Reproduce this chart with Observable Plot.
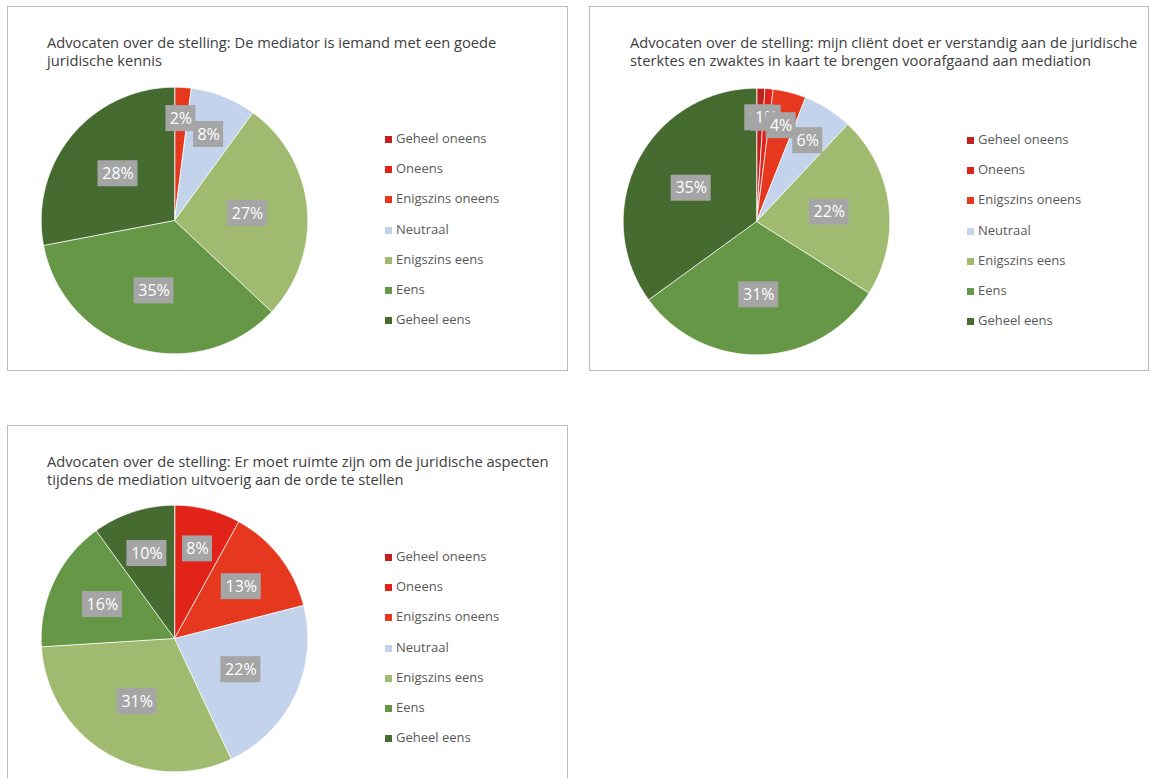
<!DOCTYPE html>
<html><head><meta charset="utf-8">
<script src="https://cdn.jsdelivr.net/npm/d3@7"></script>
<script src="https://cdn.jsdelivr.net/npm/@observablehq/plot@0.6"></script>
<style>
body{margin:0;background:#fff;font-family:"Open Sans",sans-serif;}
#page{position:relative;width:1149px;height:778px;overflow:hidden;}
.panel{position:absolute;border:1px solid #bcbcbc;box-sizing:border-box;}
.title{position:absolute;font-size:14.7px;line-height:18px;color:#404040;white-space:nowrap;}
.legend{position:absolute;font-size:13px;color:#595959;}
.legend .row{position:absolute;left:0;height:18px;line-height:18px;white-space:nowrap;}
.legend .sw{display:inline-block;width:7px;height:7px;margin-right:4px;vertical-align:0px;}
.chart{position:absolute;}
g[aria-label="label-box"] rect{filter:drop-shadow(3px 4px 4px rgba(0,0,0,0.6));}
</style></head>
<body><div id="page"></div>
<script>
const categories = ["Geheel oneens","Oneens","Enigszins oneens","Neutraal","Enigszins eens","Eens","Geheel eens"];
const colors = ["#c0211c","#e2231a","#e6381f","#c3d3eb","#a0bb6f","#669746","#466b30"];

const title1 = ["Advocaten over de stelling: De mediator is iemand met een goede","juridische kennis"];
const values1 = [0,0,2,8,27,35,28];

const title2 = ["Advocaten over de stelling: mijn cliënt doet er verstandig aan de juridische","sterktes en zwaktes in kaart te brengen voorafgaand aan mediation"];
const values2 = [1,1,4,6,22,31,35];

const title3 = ["Advocaten over de stelling: Er moet ruimte zijn om de juridische aspecten","tijdens de mediation uitvoerig aan de orde te stellen"];
const values3 = [0,8,13,22,31,16,10];

function pieChart(values){
  const arcs = d3.pie().sort(null).value(d=>d)(values);
  const pts = [];
  arcs.forEach((a,i)=>{
    if(!values[i]) return;
    const key = categories[i];
    pts.push({key, x:0, y:0});
    const n = Math.max(2, Math.ceil((a.endAngle-a.startAngle)/0.01));
    for(let k=0;k<=n;k++){
      const t = a.startAngle + (a.endAngle-a.startAngle)*k/n;
      pts.push({key, x:Math.sin(t), y:Math.cos(t)});
    }
  });
  const labels = arcs.filter((a,i)=>values[i]>0).map(a=>{
    const p = a.value, m = (a.startAngle+a.endAngle)/2;
    const r = p >= 20 ? 0.55 : 0.55 + 0.012*(20-p);
    return {x:r*Math.sin(m), y:r*Math.cos(m), text:p+"%", p};
  });
  const labelMarks = [];
  labels.forEach(d=>{
    const w = d.p>=10 ? 20 : 15;
    labelMarks.push(Plot.rect([d],{x1:"x",x2:"x",y1:"y",y2:"y",fill:"#a5a5a5",insetLeft:-w,insetRight:-w,insetTop:-13,insetBottom:-13,ariaLabel:"label-box"}));
    labelMarks.push(Plot.text([d],{x:"x",y:"y",text:"text",fill:"white",fontSize:16,fontFamily:"Open Sans"}));
  });
  return Plot.plot({
    width:280, height:280, margin:0,
    x:{domain:[-1.05,1.05], axis:null},
    y:{domain:[-1.05,1.05], axis:null},
    color:{domain:categories, range:colors},
    style:{background:"transparent", overflow:"visible"},
    marks:[
      Plot.line(pts,{x:"x",y:"y",z:"key",fill:"key",stroke:"white",strokeWidth:0.8,curve:"linear-closed"}),
      ...labelMarks
    ]
  });
}

const page = document.getElementById("page");
function panel(left, top, w, h, title, values, cx, cy, pos, legY){
  const p = document.createElement("div");
  p.className="panel";
  Object.assign(p.style,{left:left+"px",top:top+"px",width:w+"px",height:h+"px"});
  page.appendChild(p);
  const t = document.createElement("div");
  t.className="title";
  t.innerHTML = title.join("<br>");
  Object.assign(t.style,{left:(pos.tx)+"px",top:(pos.ty)+"px"});
  page.appendChild(t);
  const c = document.createElement("div");
  c.className="chart";
  Object.assign(c.style,{left:(cx-140)+"px",top:(cy-140)+"px"});
  c.appendChild(pieChart(values));
  page.appendChild(c);
  const lg = document.createElement("div");
  lg.className="legend";
  Object.assign(lg.style,{left:pos.lx+"px",top:(legY-9)+"px"});
  categories.forEach((k,i)=>{
    const r = document.createElement("div");
    r.className="row";
    r.style.top = (i*30.2)+"px";
    r.innerHTML = `<span class="sw" style="background:${colors[i]}"></span>${k}`;
    lg.appendChild(r);
  });
  page.appendChild(lg);
}
panel(7,6,561,365,title1,values1,174,220,{tx:47,ty:33,lx:385},138);
panel(589,6,560,365,title2,values2,756,221,{tx:630,ty:33,lx:967},139);
panel(7,425,561,400,title3,values3,174,638,{tx:47,ty:452,lx:385},556);
</script>
</body></html>
